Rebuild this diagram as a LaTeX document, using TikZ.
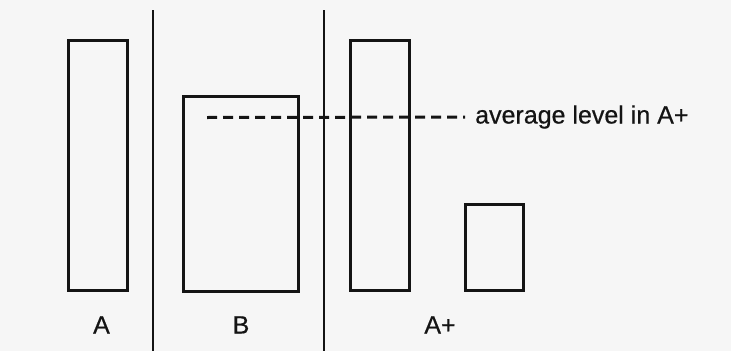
\documentclass[tikz,border=0pt]{standalone}
\usepackage{fontspec}
\setmainfont{Liberation Sans}[FakeBold=0.5]
\usetikzlibrary{positioning}
\definecolor{ink}{RGB}{20,20,20}
\definecolor{paper}{RGB}{246,246,246}
\tikzset{
  bar/.style={draw=ink,line width=3pt,inner sep=0pt,minimum width=#1},
  divider/.style={draw=ink,line width=2pt},
  level/.style={draw=ink,line width=3pt,dash pattern=on 10pt off 6pt},
  tag/.style={text=ink,inner sep=0pt,font=\fontsize{25}{29}\selectfont},
}
\begin{document}
\begin{tikzpicture}[x=1pt,y=-1pt]
  \fill[paper] (0,0) rectangle (731,351);
  \useasboundingbox (0,0) rectangle (731,351);
  % bars
  \foreach \n/\cx/\cy/\w/\h in {a/97.5/165/59/250, b/240.5/193.5/115/195, ap/379.5/165/59/250, aps/494/247/58/86}{
    \node[bar=\w pt,minimum height=\h pt] (\n) at (\cx,\cy) {};
  }
  % dividers
  \foreach \n/\x in {1/152.5,2/323.5}{
    \coordinate (d\n t) at (\x,10);
    \coordinate (d\n b) at (\x,351);
    \draw[divider] (d\n t) -- (d\n b);
  }
  % labels
  \node[tag,anchor=base] (la) at (101.5,333.5) {A};
  \node[tag,anchor=base] (lb) at (241,333.5) {B};
  \node[tag,anchor=base] (lap) at (440,333.5) {A+};
  % average level
  \node[tag,anchor=base west] (avg) at (475,123.5) {average level in A+};
  \coordinate (lvl) at (207,117.5);
  \draw[level] (lvl) -- ([xshift=-10pt]avg.west);
\end{tikzpicture}
\end{document}
